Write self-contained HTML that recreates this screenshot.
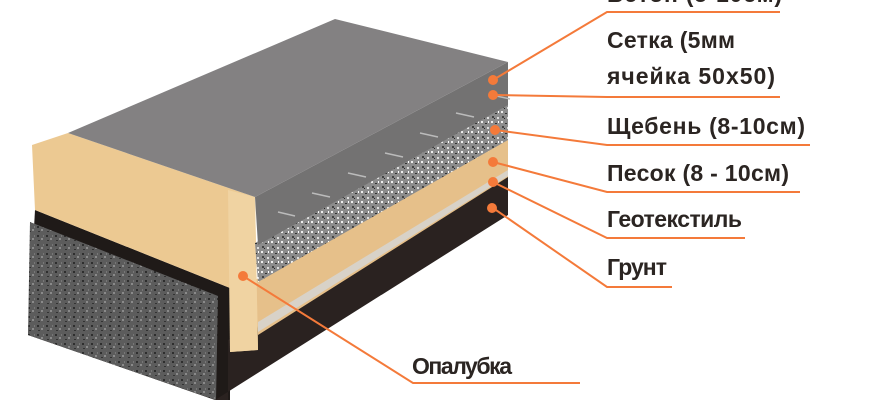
<!DOCTYPE html>
<html><head><meta charset="utf-8"><style>
html,body{margin:0;padding:0;background:#fff;width:870px;height:400px;overflow:hidden}
svg text{font-family:"Liberation Sans",sans-serif;font-size:23px;fill:#2b2522;font-weight:bold}
</style></head><body>
<svg width="870" height="400" viewBox="0 0 870 400" xmlns="http://www.w3.org/2000/svg">
<defs>
<pattern id="rub" width="10" height="10" patternUnits="userSpaceOnUse">
<rect width="10" height="10" fill="#8c8c8c"/>
<rect x="1" y="1" width="2" height="2" fill="#eee"/><rect x="5" y="3" width="2" height="1" fill="#333"/><rect x="7" y="7" width="2" height="2" fill="#ddd"/><rect x="2" y="6" width="2" height="2" fill="#444"/><rect x="8" y="1" width="1" height="2" fill="#fff"/><rect x="4" y="8" width="1" height="1" fill="#222"/>
</pattern>
<pattern id="gnd" width="9" height="9" patternUnits="userSpaceOnUse">
<rect width="9" height="9" fill="#5c5c5c"/>
<rect x="1" y="1" width="2" height="2" fill="#2e2e2e"/><rect x="5" y="4" width="2" height="2" fill="#8a8a8a"/><rect x="2" y="6" width="2" height="1" fill="#333"/><rect x="7" y="1" width="1" height="2" fill="#777"/>
</pattern>
</defs>
<!-- left ground block -->
<polygon points="35,210 230,288 230,400 215,400 28,335" fill="#1f1a18"/>
<polygon points="30,222 218,296 216,400 28,335" fill="url(#gnd)"/>
<!-- dark bottom right -->
<polygon points="228,340 508,175 508,215 215,400 228,400" fill="#2a2220"/>
<!-- sand -->
<polygon points="255,280 508,138 508,177 258,335" fill="#e6c08a"/>
<polygon points="258,322 508,170 508,176 258,332" fill="#d8d2c8"/>
<!-- wood formwork -->
<polygon points="32,145 68,133 255,197 258,350 230,352 230,288 35,210" fill="#ecc992"/>
<polygon points="228,190 255,197 258,350 230,352" fill="#f0d3a2"/>
<!-- rubble -->
<polygon points="255,243 508,103 508,140 258,282" fill="url(#rub)"/>
<!-- concrete side -->
<polygon points="255,197 508,62 508,105 258,245" fill="#737272"/>
<!-- top face -->
<polygon points="68,133 335,19 508,62 255,197" fill="#838182"/>
<g stroke="#bbb" stroke-width="1.5">
<line x1="278" y1="212" x2="295" y2="216"/><line x1="312" y1="193" x2="330" y2="197"/><line x1="348" y1="173" x2="366" y2="177"/><line x1="385" y1="153" x2="403" y2="157"/><line x1="420" y1="133" x2="438" y2="137"/><line x1="456" y1="113" x2="474" y2="117"/><line x1="492" y1="95" x2="510" y2="99"/>
</g>
<!-- leaders -->
<g stroke="#f47a3a" stroke-width="2" fill="none">
<polyline points="493,80 607,12 780,12"/>
<polyline points="493,95 607,97 780,97"/>
<polyline points="495,130 607,145 810,145"/>
<polyline points="493,162 607,192 800,192"/>
<polyline points="493,182 607,238 745,238"/>
<polyline points="493,208 607,287 672,287"/>
<polyline points="243,276 413,383 580,383"/>
</g>
<g fill="#f47a3a">
<circle cx="493" cy="80" r="5"/><circle cx="493" cy="95" r="5"/><circle cx="495" cy="130" r="5"/><circle cx="493" cy="162" r="5"/><circle cx="493" cy="182" r="5"/><circle cx="492" cy="208" r="5"/><circle cx="243" cy="276" r="5"/>
</g>
<text x="607" y="2" textLength="175">Бетон (5-10см)</text>
<text x="607" y="48" textLength="128">Сетка (5мм</text>
<text x="607" y="84" textLength="168">ячейка 50x50)</text>
<text x="607" y="134" textLength="198">Щебень (8-10см)</text>
<text x="607" y="181" textLength="182">Песок (8 - 10см)</text>
<text x="607" y="227" textLength="135">Геотекстиль</text>
<text x="607" y="275" textLength="60">Грунт</text>
<text x="412" y="374" textLength="100">Опалубка</text>
</svg>
</body></html>
